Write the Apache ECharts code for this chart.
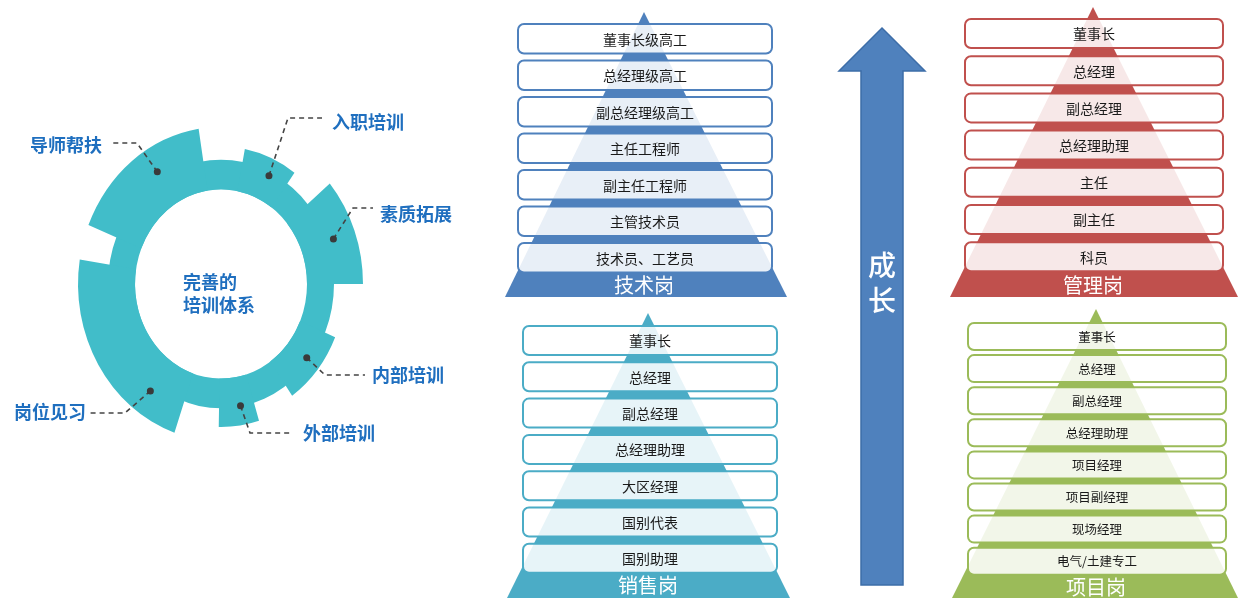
<!DOCTYPE html>
<html><head><meta charset="utf-8">
<script src="https://cdn.jsdelivr.net/npm/echarts@6/dist/echarts.min.js"></script>
<style>html,body{margin:0;padding:0;background:#fff}#c{width:1243px;height:598px}</style>
</head><body><div id="c"></div>
<script>
// ---------------- data ----------------
const ringCategories  = ['导师帮扶', '入职培训', '素质拓展', '内部培训', '外部培训', '岗位见习'];
const ringStartAngle  = [99, 54, 0, -55, -91, 171];     // degrees, counter-clockwise from 3 o'clock
const ringEndAngle    = [158, 79, 40, -23, -73, 251];
const ringOuterRadius = [143, 125, 142, 124, 130, 143];
const ringMarkerAngle = [122, 64, 20, -38, -80, 234];
const ringCenterTitle = ['完善的', '培训体系'];

const techLevels    = ['董事长级高工', '总经理级高工', '副总经理级高工', '主任工程师', '副主任工程师', '主管技术员', '技术员、工艺员'];
const salesLevels   = ['董事长', '总经理', '副总经理', '总经理助理', '大区经理', '国别代表', '国别助理'];
const mgmtLevels    = ['董事长', '总经理', '副总经理', '总经理助理', '主任', '副主任', '科员'];
const projectLevels = ['董事长', '总经理', '副总经理', '总经理助理', '项目经理', '项目副经理', '现场经理', '电气/土建专工'];
const pyramidTitles = ['技术岗', '销售岗', '管理岗', '项目岗'];
const arrowTitle    = ['成', '长'];

// ---------------- layout & style ----------------
const W = 1243, H = 598;
const FONT = '"Noto Sans CJK SC","Noto Sans",sans-serif';
const RING = { cx: 221, cy: 284, r0: 86, rBase: 113, sy: 1.1, color: '#41bdc9' };
const LABEL_COLOR = '#1f6fbf';
const CALLOUTS = [
  { elbow: [137, 143], end: [110, 143], label: [102, 145], align: 'right' },
  { elbow: [288, 118], end: [322, 118], label: [332, 122], align: 'left' },
  { elbow: [353, 208], end: [373, 208], label: [380, 214], align: 'left' },
  { elbow: [325, 375], end: [365, 375], label: [372, 375], align: 'left' },
  { elbow: [250, 433], end: [293, 433], label: [303, 433], align: 'left' },
  { elbow: [125, 413], end: [90, 413],  label: [86, 412],  align: 'right' }
];
const PYR = [
  { levels: techLevels,    title: pyramidTitles[0], color: '#4f81bd', apex: [644, 12],  base: [505, 787, 297], box: [518, 772, 24, 29.5, 36.5], font: 14,   titleY: 285 },
  { levels: salesLevels,   title: pyramidTitles[1], color: '#4bacc6', apex: [648, 313], base: [507, 790, 598], box: [523, 777, 326, 29, 36.3],  font: 14,   titleY: 585 },
  { levels: mgmtLevels,    title: pyramidTitles[2], color: '#c0504d', apex: [1093, 7],  base: [950, 1238, 297], box: [965, 1223, 19, 29, 37.2], font: 14,   titleY: 285 },
  { levels: projectLevels, title: pyramidTitles[3], color: '#9bbb59', apex: [1096, 309], base: [952, 1238, 598], box: [968, 1226, 323, 27, 32.1], font: 12.5, titleY: 587 }
];
const ARROW = { tip: [882, 28], headY: 71, wingL: 839, wingR: 925, shaftL: 861, shaftR: 903, bottom: 585, color: '#4f81bd', edge: '#3d6da8', textY: [265, 300] };

const DEG = Math.PI / 180;
const chart = echarts.init(document.getElementById('c'), null, { renderer: 'canvas', width: W, height: H });
const sz = (api, d) => api.size([d, d])[0];

function ringPoint(angle, r) {
  return [RING.cx + r * Math.cos(angle * DEG), RING.cy - r * Math.sin(angle * DEG) * RING.sy];
}

const series = [];

// base ring + centre title
series.push({
  type: 'custom', z: 1, clip: false, silent: true,
  data: [[RING.cx, RING.cy]],
  renderItem: (p, api) => {
    const c = api.coord([api.value(0), api.value(1)]);
    return {
      type: 'group', children: [
        { type: 'ring', shape: { cx: c[0], cy: c[1], r0: sz(api, RING.r0), r: sz(api, RING.rBase) },
          originX: c[0], originY: c[1], scaleY: RING.sy, style: { fill: RING.color } },
        ...ringCenterTitle.map((t, k) => {
          const q = api.coord([RING.cx - 38, RING.cy - 2 + k * 23]);
          return { type: 'text', x: q[0], y: q[1],
            style: { text: t, fill: LABEL_COLOR, font: 'bold 18px ' + FONT, align: 'left', verticalAlign: 'middle' } };
        })
      ]
    };
  }
});

// gear teeth segments with callouts
series.push({
  type: 'custom', z: 2, clip: false, silent: true,
  data: ringCategories.map((n, i) => [ringStartAngle[i], ringEndAngle[i], ringOuterRadius[i], ringMarkerAngle[i]]),
  renderItem: (p, api) => {
    const i = p.dataIndex;
    const a1 = api.value(0), a2 = api.value(1), r = api.value(2), am = api.value(3);
    const c = api.coord([RING.cx, RING.cy]);
    const rm = RING.r0 + 0.6 * (r - RING.r0);
    const dot = api.coord(ringPoint(am, rm));
    const co = CALLOUTS[i];
    const el = api.coord(co.elbow), en = api.coord(co.end), lb = api.coord(co.label);
    return {
      type: 'group', children: [
        { type: 'sector', shape: { cx: c[0], cy: c[1], r0: sz(api, RING.r0), r: sz(api, r),
            startAngle: -a2 * DEG, endAngle: -a1 * DEG, clockwise: true },
          originX: c[0], originY: c[1], scaleY: RING.sy, style: { fill: RING.color } },
        { type: 'polyline', shape: { points: [dot, el, en] },
          style: { stroke: '#444', lineWidth: 1.6, lineDash: [5, 4], fill: null } },
        { type: 'circle', shape: { cx: dot[0], cy: dot[1], r: 3.5 }, style: { fill: '#3a3a3a' } },
        { type: 'text', x: lb[0], y: lb[1],
          style: { text: ringCategories[i], fill: LABEL_COLOR, font: 'bold 18px ' + FONT, align: co.align, verticalAlign: 'middle' } }
      ]
    };
  }
});

// pyramid triangles + titles
series.push({
  type: 'custom', z: 3, clip: false, silent: true,
  data: PYR.map((d, i) => [i]),
  renderItem: (p, api) => {
    const d = PYR[p.dataIndex];
    const pts = [d.apex, [d.base[0], d.base[2]], [d.base[1], d.base[2]]].map(q => api.coord(q));
    const t = api.coord([d.apex[0], d.titleY]);
    return {
      type: 'group', children: [
        { type: 'polygon', shape: { points: pts }, style: { fill: d.color } },
        { type: 'text', x: t[0], y: t[1],
          style: { text: d.title, fill: '#ffffff', font: '20px ' + FONT, align: 'center', verticalAlign: 'middle' } }
      ]
    };
  }
});

// pyramid level boxes
PYR.forEach((d) => {
  series.push({
    type: 'custom', z: 4, clip: false, silent: true,
    data: d.levels.map((n, i) => [i]),
    renderItem: (p, api) => {
      const i = p.dataIndex;
      const [bl, br, top, bh, pitch] = d.box;
      const y0 = top + i * pitch;
      const a = api.coord([bl, y0]), b = api.coord([br, y0 + bh]);
      const m = api.coord([(bl + br) / 2, y0 + bh / 2]);
      return {
        type: 'group', children: [
          { type: 'rect', shape: { x: a[0], y: a[1], width: b[0] - a[0], height: b[1] - a[1], r: 6 },
            style: { fill: 'rgba(255,255,255,0.87)', stroke: d.color, lineWidth: 2 } },
          { type: 'text', x: m[0], y: m[1] + 0.5,
            style: { text: d.levels[i], fill: '#1a1a1a', font: d.font + 'px ' + FONT, align: 'center', verticalAlign: 'middle' } }
        ]
      };
    }
  });
});

// growth arrow
series.push({
  type: 'custom', z: 3, clip: false, silent: true,
  data: [[0]],
  renderItem: (p, api) => {
    const A = ARROW;
    const pts = [A.tip, [A.wingR, A.headY], [A.shaftR, A.headY], [A.shaftR, A.bottom],
                 [A.shaftL, A.bottom], [A.shaftL, A.headY], [A.wingL, A.headY]].map(q => api.coord(q));
    return {
      type: 'group', children: [
        { type: 'polygon', shape: { points: pts }, style: { fill: A.color, stroke: A.edge, lineWidth: 1.5 } },
        ...arrowTitle.map((t, k) => {
          const q = api.coord([A.tip[0], A.textY[k]]);
          return { type: 'text', x: q[0], y: q[1],
            style: { text: t, fill: '#ffffff', font: '500 28px ' + FONT, align: 'center', verticalAlign: 'middle' } };
        })
      ]
    };
  }
});

chart.setOption({
  animation: false,
  backgroundColor: '#ffffff',
  grid: { left: 0, right: 0, top: 0, bottom: 0 },
  xAxis: { type: 'value', min: 0, max: W, show: false },
  yAxis: { type: 'value', min: 0, max: H, inverse: true, show: false },
  series: series
});
</script>
</body></html>
